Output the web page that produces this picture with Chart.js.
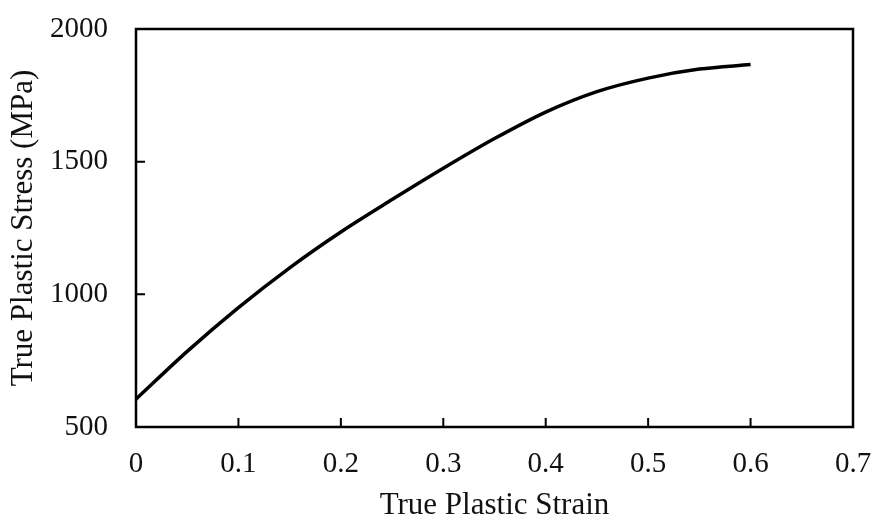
<!DOCTYPE html>
<html>
<head>
<meta charset="utf-8">
<script src="https://cdn.jsdelivr.net/npm/chart.js@4.4.1/dist/chart.umd.min.js"></script>
<style>
    html, body { margin: 0; padding: 0; background: #fff; }
    #wrap { width: 872px; height: 518px; }
</style>
</head>
<body>
<div id="wrap"><canvas id="stressChart"></canvas></div>
<script>
// true plastic strain vs true plastic stress
const strain = [0, 0.05, 0.1, 0.15, 0.2, 0.25, 0.3, 0.35, 0.4, 0.45, 0.5, 0.55, 0.6];
const stress = [605, 785, 950, 1100, 1235, 1357, 1475, 1587, 1687, 1764, 1815, 1849, 1866];

const xTicks = [0, 0.1, 0.2, 0.3, 0.4, 0.5, 0.6, 0.7];
const yTicks = [500, 1000, 1500, 2000];

const serif = "'Liberation Serif', 'Times New Roman', serif";

// frame round the plot plus short inward tick marks
const framePlugin = {
    id: 'frame',
    afterDraw: function (chart) {
        const ctx = chart.ctx;
        const a = chart.chartArea;
        const xs = chart.scales.x;
        const ys = chart.scales.y;
        ctx.save();
        ctx.strokeStyle = '#000';
        ctx.lineWidth = 2;
        ctx.beginPath();
        xTicks.forEach(function (v) {
            const px = xs.getPixelForValue(v);
            ctx.moveTo(px, a.bottom);
            ctx.lineTo(px, a.bottom - 9);
        });
        yTicks.forEach(function (v) {
            const py = ys.getPixelForValue(v);
            ctx.moveTo(a.left, py);
            ctx.lineTo(a.left + 9, py);
        });
        ctx.stroke();
        ctx.lineWidth = 2.5;
        ctx.strokeRect(a.left, a.top, a.right - a.left, a.bottom - a.top);
        ctx.restore();
    }
};

const ctx = document.getElementById('stressChart');

new Chart(ctx, {
    type: 'line',
    data: {
        datasets: [{
            data: strain.map((s, i) => ({x: s, y: stress[i]})),
            borderColor: '#000',
            borderWidth: 3.5,
            pointRadius: 0,
            fill: false,
            cubicInterpolationMode: 'monotone'
        }]
    },
    options: {
        responsive: true,
        maintainAspectRatio: false,
        animation: false,
        layout: {
            padding: {top: 29, right: 19, bottom: 0, left: 0}
        },
        plugins: {
            legend: {display: false},
            tooltip: {enabled: false}
        },
        scales: {
            x: {
                type: 'linear',
                min: 0,
                max: 0.7,
                afterBuildTicks: function (axis) {
                    axis.ticks = xTicks.map(v => ({value: v}));
                },
                afterFit: function (axis) {
                    axis.height = 91;
                    axis.paddingLeft = 0;
                    axis.paddingRight = 0;
                },
                grid: {display: false, drawTicks: false},
                border: {display: false},
                ticks: {
                    color: '#111',
                    padding: 20,
                    maxRotation: 0,
                    font: {family: serif, size: 29},
                    callback: v => String(v)
                },
                title: {
                    display: true,
                    text: 'True Plastic Strain',
                    color: '#111',
                    padding: {top: 0, bottom: 0},
                    font: {family: serif, size: 31, lineHeight: 0.8}
                }
            },
            y: {
                min: 500,
                max: 2000,
                afterBuildTicks: function (axis) {
                    axis.ticks = yTicks.map(v => ({value: v}));
                },
                afterFit: function (axis) {
                    axis.width = 136;
                    axis.paddingTop = 0;
                    axis.paddingBottom = 0;
                },
                grid: {display: false, drawTicks: false},
                border: {display: false},
                ticks: {
                    color: '#111',
                    padding: 28,
                    font: {family: serif, size: 29},
                    callback: v => String(v)
                },
                title: {
                    display: true,
                    text: 'True Plastic Stress (MPa)',
                    color: '#111',
                    padding: {top: 8, bottom: 0},
                    font: {family: serif, size: 31, lineHeight: 1}
                }
            }
        }
    },
    plugins: [framePlugin]
});
</script>
</body>
</html>
